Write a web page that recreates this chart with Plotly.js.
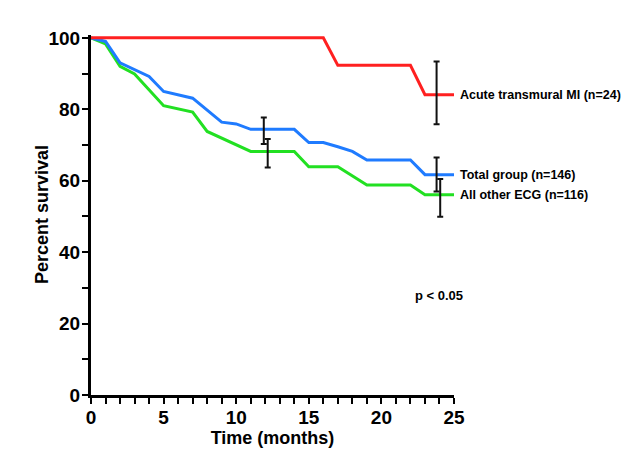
<!DOCTYPE html>
<html>
<head>
<meta charset="utf-8">
<script src="https://cdn.plot.ly/plotly-3.0.1.min.js"></script>
<style>html,body{margin:0;padding:0;background:#fff;}#chart{width:640px;height:470px;}</style>
</head>
<body>
<div id="chart"></div>
<script>
// Survival curves (months, percent survival)
const miMonths    = [0, 16, 17, 22, 23, 25];
const miSurvival  = [100, 100, 92.3, 92.3, 84.1, 84.1];

const totalMonths   = [0, 1, 2, 3, 4, 5, 7, 9, 10, 11, 14, 15, 16, 17, 18, 19, 22, 23, 25];
const totalSurvival = [100, 99, 93, 91.2, 89.2, 85, 83.1, 76.4, 75.9, 74.4, 74.4, 70.7, 70.7, 69.5, 68.2, 65.8, 65.8, 61.7, 61.7];

const otherMonths   = [0, 1, 2, 3, 5, 7, 8, 11, 14, 15, 17, 19, 22, 23, 25];
const otherSurvival = [100, 98.3, 92, 89.9, 81, 79.2, 73.8, 68.2, 68.2, 63.9, 63.9, 58.8, 58.8, 56.1, 56.1];

// Error bars (confidence intervals)
const errMonths = [23.8, 11.9, 12.17, 23.8, 24.05];
const errMid    = [84.1, 74.4, 68.2, 61.7, 56.1];
const errUp     = [9.3, 3.3, 3.5, 4.8, 4.4];
const errDown   = [8.3, 4.1, 4.5, 4.7, 6.2];

const seriesLabels = ["Acute transmural MI (n=24)", "Total group (n=146)", "All other ECG (n=116)"];
const xTicks = Array.from({length: 26}, (_, i) => i);
const xTickText = xTicks.map(v => v % 5 === 0 ? String(v) : "");
const yTicks = Array.from({length: 11}, (_, i) => i * 10);
const yTickText = yTicks.map(v => v % 20 === 0 ? String(v) : "");

const FONT = "Liberation Sans, Arial, sans-serif";
const lineW = 3;
const traces = [
  {x: otherMonths, y: otherSurvival, mode: "lines", line: {color: "#22e022", width: lineW}, hoverinfo: "skip"},
  {x: totalMonths, y: totalSurvival, mode: "lines", line: {color: "#1f7bff", width: lineW}, hoverinfo: "skip"},
  {x: miMonths, y: miSurvival, mode: "lines", line: {color: "#ff2020", width: lineW}, hoverinfo: "skip"},
  {x: errMonths, y: errMid, mode: "markers", marker: {size: 1, opacity: 0},
   error_y: {type: "data", symmetric: false, array: errUp, arrayminus: errDown, color: "#111", thickness: 2, width: 3},
   hoverinfo: "skip"}
];

const ends = [miSurvival[miSurvival.length-1], totalSurvival[totalSurvival.length-1], otherSurvival[otherSurvival.length-1]];
const annotations = seriesLabels.map((t, i) => ({
  x: 25, y: ends[i], xref: "x", yref: "y", text: "<b>" + t + "</b>", showarrow: false,
  xanchor: "left", yanchor: "middle", xshift: 4,
  font: {family: FONT, size: 12.5, color: "#000"}
}));
annotations.push({x: 24.0, y: 28, xref: "x", yref: "y", text: "<b>p &lt; 0.05</b>", showarrow: false,
  xanchor: "center", yanchor: "middle", font: {family: FONT, size: 13, color: "#000"}});
annotations.push({x: 0, y: 0.5, xref: "paper", yref: "paper", xshift: -49, text: "<b>Percent survival</b>",
  textangle: -90, showarrow: false, xanchor: "center", yanchor: "middle", font: {family: FONT, size: 18, color: "#000"}});

const tickFont = {family: FONT, size: 19, color: "#000", weight: "bold"};
const layout = {
  width: 640, height: 470,
  margin: {l: 91, r: 186, t: 35, b: 75},
  paper_bgcolor: "#fff", plot_bgcolor: "#fff",
  showlegend: false,
  xaxis: {
    range: [0, 25], tickvals: xTicks, ticktext: xTickText,
    showgrid: false, zeroline: false, showline: true, linecolor: "#000", linewidth: 3,
    ticks: "outside", ticklen: 6, tickwidth: 2, tickcolor: "#000",
    tickfont: tickFont, ticklabelstandoff: -3,
    title: {text: "<b>Time (months)</b>", font: {family: FONT, size: 18, color: "#000"}, standoff: 4}
  },
  yaxis: {
    range: [0, 100.8], tickvals: yTicks, ticktext: yTickText,
    showgrid: false, zeroline: false, showline: true, linecolor: "#000", linewidth: 3,
    ticks: "outside", ticklen: 6, tickwidth: 2, tickcolor: "#000",
    tickfont: tickFont, ticklabelstandoff: -2
  },
  annotations: annotations
};

Plotly.newPlot("chart", traces, layout, {displayModeBar: false, staticPlot: true});
</script>
</body>
</html>
